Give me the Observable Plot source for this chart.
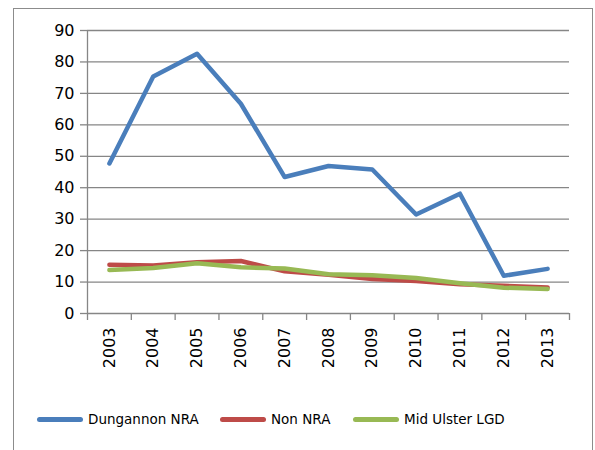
<!DOCTYPE html>
<html>
<head>
<meta charset="utf-8">
<script src="https://cdn.jsdelivr.net/npm/d3@7"></script>
<script src="https://cdn.jsdelivr.net/npm/@observablehq/plot@0.6"></script>
<style>
  body { margin: 0; background: #fff; }
  #wrap { position: relative; width: 595px; height: 450px; overflow: hidden; font-family: "DejaVu Sans", sans-serif; }
  #frame { position: absolute; left: 13px; top: 8px; width: 580px; height: 470px; border: 1px solid #8c8c8c; box-sizing: border-box; pointer-events: none; }
  #chart { position: absolute; left: 0; top: 0; }
  #legend { position: absolute; left: 0; top: 410px; width: 595px; height: 20px; font-size: 13.5px; color: #000; }
  .item { position: absolute; top: 0; display: flex; align-items: center; height: 18px; }
  .sw { width: 46px; height: 5px; border-radius: 2.5px; margin-right: 5px; }
</style>
</head>
<body>
<div id="wrap">
  <div id="chart"></div>
  <div id="frame"></div>
  <div id="legend"></div>
</div>
<script>
const years = [2003, 2004, 2005, 2006, 2007, 2008, 2009, 2010, 2011, 2012, 2013];
const dungannon = [47.7, 75.4, 82.6, 66.7, 43.4, 46.9, 45.8, 31.5, 38.1, 12.0, 14.2];
const nonNRA = [15.5, 15.3, 16.3, 16.7, 13.4, 12.3, 11.0, 10.3, 9.3, 8.8, 8.3];
const midUlster = [13.8, 14.5, 16.0, 14.7, 14.3, 12.5, 12.2, 11.3, 9.6, 8.2, 7.8];
const seriesNames = ["Dungannon NRA", "Non NRA", "Mid Ulster LGD"];
const seriesColors = ["#4a7ebb", "#be4b48", "#98b954"];
const yTicks = [0, 10, 20, 30, 40, 50, 60, 70, 80, 90];

const seriesValues = [dungannon, nonNRA, midUlster];
const rows = seriesNames.flatMap((name, i) =>
  years.map((yr, j) => ({ series: name, year: yr, value: seriesValues[i][j] })));
const boundaries = years.map(y => y - 0.5).concat([years[years.length - 1] + 0.5]);

const chart = Plot.plot({
  width: 595,
  height: 450,
  marginLeft: 87,
  marginRight: 26,
  marginTop: 30,
  marginBottom: 137,
  style: { fontFamily: "DejaVu Sans, sans-serif", fontSize: "16px", color: "#000", background: "transparent" },
  x: { type: "linear", domain: [boundaries[0], boundaries[boundaries.length - 1]] },
  y: { domain: [0, 90] },
  color: { domain: seriesNames, range: seriesColors },
  marks: [
    Plot.ruleY(yTicks, { stroke: "#868686", strokeWidth: 1.3 }),
    Plot.ruleX([boundaries[0]], { stroke: "#868686", strokeWidth: 1.3 }),
    Plot.axisY({ ticks: yTicks, tickSize: 7, tickPadding: 6, stroke: "#868686", strokeWidth: 1.3, strokeOpacity: 1, label: null, fontSize: 16, fill: "#000" }),
    Plot.axisX({ ticks: boundaries, tickSize: 7, tickFormat: () => "", stroke: "#868686", strokeWidth: 1.3, strokeOpacity: 1, label: null }),
    Plot.axisX({ ticks: years, tickSize: 0, tickPadding: 14, tickRotate: -90, tickFormat: d => String(d), label: null, fontSize: 16, fill: "#000" }),
    Plot.line(rows, { x: "year", y: "value", z: "series", stroke: "series", strokeWidth: 4.5, strokeLinejoin: "round", strokeLinecap: "round" })
  ]
});
document.getElementById("chart").appendChild(chart);

const legendPos = [37, 220, 353];
const legend = document.getElementById("legend");
seriesNames.forEach((name, i) => {
  const item = document.createElement("div");
  item.className = "item";
  item.style.left = legendPos[i] + "px";
  const sw = document.createElement("div");
  sw.className = "sw";
  sw.style.background = seriesColors[i];
  const t = document.createElement("span");
  t.textContent = name;
  item.appendChild(sw);
  item.appendChild(t);
  legend.appendChild(item);
});
</script>
</body>
</html>
